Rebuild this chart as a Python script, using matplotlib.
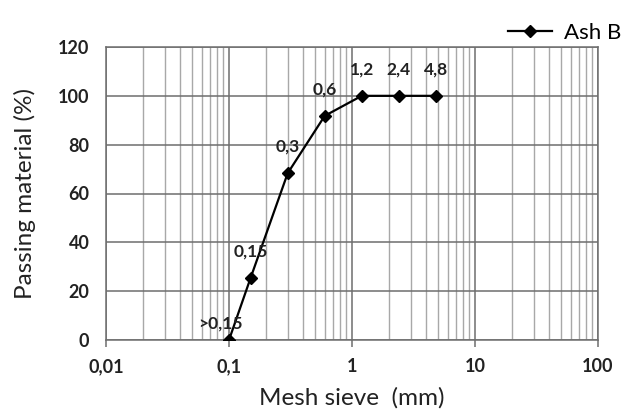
import numpy as np
import matplotlib.pyplot as plt
from matplotlib.ticker import FixedLocator, LogLocator, NullFormatter

# sieve data
sieve_mm = [0.1, 0.15, 0.3, 0.6, 1.2, 2.4, 4.8]
passing = [0, 25.5, 68.3, 91.8, 100, 100, 100]
point_labels = [">0,15", "0,15", "0,3", "0,6", "1,2", "2,4", "4,8"]
x_ticks = [0.01, 0.1, 1, 10, 100]
x_ticklabels = ["0,01", "0,1", "1", "10", "100"]
y_ticks = [0, 20, 40, 60, 80, 100, 120]

plt.rcParams['font.family'] = ['Lato', 'DejaVu Sans']

fig = plt.figure(figsize=(6.3, 4.12), dpi=100)
ax = fig.add_axes([106 / 630, (412 - 340) / 412, 492 / 630, 293 / 412])

ax.plot(sieve_mm, passing, color='black', lw=1.6, marker='D', ms=6,
        label='Ash B', zorder=3)

ax.set_xscale('log')
ax.set_xlim(0.01, 100)
ax.set_ylim(0, 120)

# grid lines like excel log chart
ax.xaxis.set_major_locator(FixedLocator(x_ticks))
ax.set_xticklabels(x_ticklabels)
ax.xaxis.set_minor_locator(LogLocator(base=10, subs=np.arange(2, 10)))
ax.xaxis.set_minor_formatter(NullFormatter())
ax.set_yticks(y_ticks)
ax.grid(which='major', color='#6e6e6e', lw=1.1)
ax.grid(which='minor', axis='x', color='#a8a8a8', lw=1.0)
ax.tick_params(axis='x', which='major', length=5, color='#6e6e6e', width=1.1,
               labelsize=13, pad=8)
ax.tick_params(axis='x', which='minor', length=0)
ax.tick_params(axis='y', length=0, labelsize=13, pad=12)
for lbl in ax.get_xticklabels() + ax.get_yticklabels():
    lbl.set_fontweight('bold')
    lbl.set_color('#222222')
for s in ax.spines.values():
    s.set_color('#6e6e6e')
    s.set_linewidth(1.1)

# point labels above markers
for x, y, t in zip(sieve_mm, passing, point_labels):
    dx, dy = (-6, 12) if t.startswith('>') else (0, 19)
    ax.annotate(t, (x, y), xytext=(dx, dy), textcoords='offset points',
                ha='center', va='center', fontsize=12.5, fontweight='bold',
                color='#222222')

ax.set_xlabel('Mesh sieve  (mm)', fontsize=17.5, color='#222222', labelpad=9)
ax.set_ylabel('Passing material (%)', fontsize=17.5, color='#222222', labelpad=16)

fig.legend(handles=ax.get_lines(), loc='center left',
           bbox_to_anchor=(508 / 630, (412 - 33) / 412),
           bbox_transform=fig.transFigure, frameon=False,
           fontsize=16, handlelength=2.0, handletextpad=0.5, borderaxespad=0,
           borderpad=0)

fig.savefig('out.png', dpi=100)
